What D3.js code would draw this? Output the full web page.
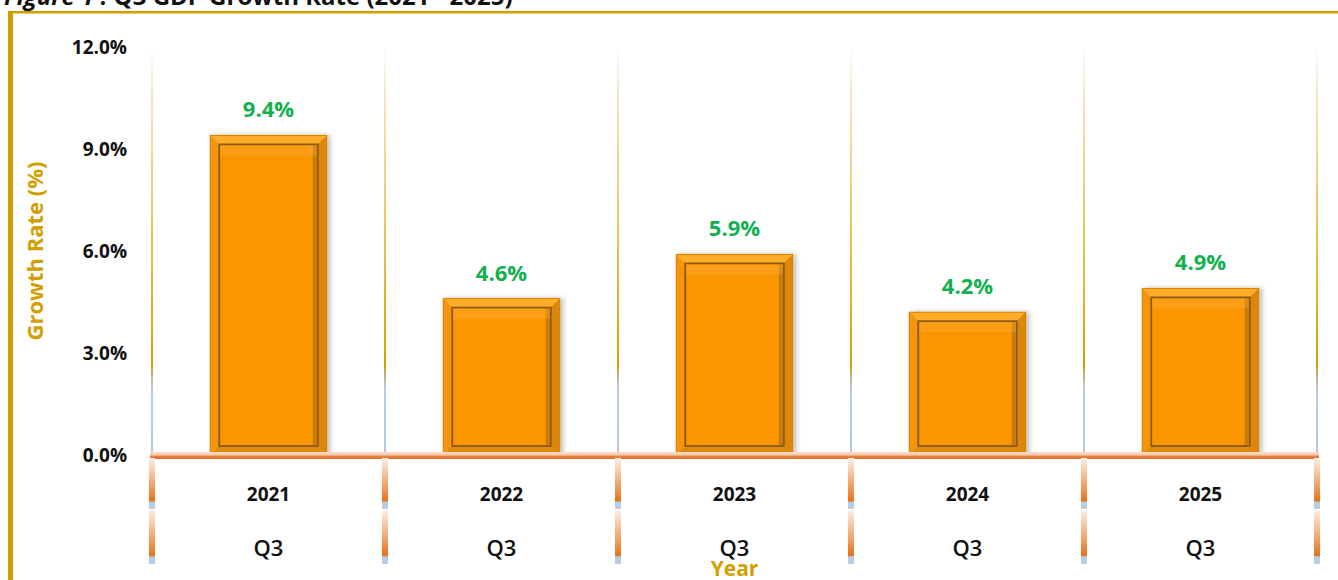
<!DOCTYPE html>
<html><head><meta charset="utf-8">
<script src="https://cdn.jsdelivr.net/npm/d3@7/dist/d3.min.js"></script>
<style>html,body{margin:0;padding:0;background:#fff;overflow:hidden}</style>
</head><body>
<svg id="c" width="1338" height="580"></svg>
<script>
const years = ["2021","2022","2023","2024","2025"];
const quarters = ["Q3","Q3","Q3","Q3","Q3"];
const growth = [9.4, 4.6, 5.9, 4.2, 4.9];
const yTicks = [0, 3, 6, 9, 12];
const titleItalic = "Figure 1 : ";
const titleMain = "Q3 GDP Growth Rate (2021 - 2025)";
const yTitle = "Growth Rate (%)";
const xTitle = "Year";

(function(){
const svg = d3.select("#c");
const GOLD = "#D39E00", GREEN = "#12B04F";
const pLeft = 152, pRight = 1317, pTop = 47, pBottom = 455;
const FONT = "'Open Sans', Lato, sans-serif";

const x = d3.scaleBand().domain(years).range([pLeft, pRight]).paddingInner(0.5).paddingOuter(0.25);
const y = d3.scaleLinear().domain([0, 12]).range([pBottom, pTop]);
const step = x.step();
const bounds = years.map(d => x(d) - step * 0.25).concat([pRight]);

const defs = svg.append("defs");
const gg = defs.append("linearGradient").attr("id","grid").attr("gradientUnits","userSpaceOnUse")
  .attr("x1",0).attr("y1",45).attr("x2",0).attr("y2",455);
[[0,"#ffffff"],[0.12,"#f4e6c4"],[0.45,"#e8c55a"],[0.78,"#d4a000"],[0.81,"#c4b490"],[0.84,"#b8cce8"],[1,"#b4c8e6"]]
  .forEach(([o,c]) => gg.append("stop").attr("offset",o).attr("stop-color",c));
const tg = defs.append("linearGradient").attr("id","tick").attr("x1",0).attr("y1",0).attr("x2",0).attr("y2",1);
[[0,"#fbefe6"],[0.5,"#f0a870"],[0.84,"#e8701a"],[0.87,"#b8cce6"],[1,"#b8cce6"]]
  .forEach(([o,c]) => tg.append("stop").attr("offset",o).attr("stop-color",c));
const ag = defs.append("linearGradient").attr("id","axis").attr("x1",0).attr("y1",0).attr("x2",0).attr("y2",1);
[[0,"#fbe3d4"],[0.45,"#f4c2a0"],[0.6,"#e98040"],[1,"#e07028"]]
  .forEach(([o,c]) => ag.append("stop").attr("offset",o).attr("stop-color",c));
const sh = defs.append("filter").attr("id","shadow").attr("x","-10%").attr("y","-10%").attr("width","130%").attr("height","130%");
sh.append("feDropShadow").attr("dx",3).attr("dy",0).attr("stdDeviation",2.5).attr("flood-color","#000").attr("flood-opacity",0.25);

// frame
svg.append("rect").attr("x",8).attr("y",11).attr("width",1340).attr("height",2.5).attr("fill",GOLD);
svg.append("rect").attr("x",8).attr("y",11).attr("width",5).attr("height",580).attr("fill",GOLD);

// title (cut off at top)
const t = svg.append("text").attr("x",4).attr("y",5).attr("font-family","'Open Sans', sans-serif")
  .attr("font-size",24).attr("font-weight",700).attr("fill","#111");
t.append("tspan").attr("font-style","italic").text(titleItalic);
t.append("tspan").text(titleMain);

// vertical gridlines
svg.append("g").selectAll("line").data(bounds).join("line")
  .attr("x1",d=>d).attr("x2",d=>d).attr("y1",45).attr("y2",455)
  .attr("stroke","url(#grid)").attr("stroke-width",2);

// bars
const bars = svg.append("g").selectAll("g").data(growth).join("g").attr("filter","url(#shadow)");
const b = 9;
bars.each(function(v, i) {
  const g = d3.select(this);
  const x0 = x(years[i]), x1 = x0 + x.bandwidth(), yt = y(v), yb = y(0);
  g.append("rect").attr("x",x0).attr("y",yt).attr("width",x1-x0).attr("height",yb-yt).attr("fill","#FA9600");
  const poly = (pts, fill) => g.append("path").attr("d","M"+pts.map(p=>p.join(",")).join("L")+"Z").attr("fill",fill);
  poly([[x0,yt],[x1,yt],[x1-b,yt+b],[x0+b,yt+b]], "#FFAC2A");
  poly([[x0,yt],[x0+b,yt+b],[x0+b,yb-b],[x0,yb]], "#F59510");
  poly([[x1,yt],[x1-b,yt+b],[x1-b,yb-b],[x1,yb]], "#DC8608");
  poly([[x0,yb],[x1,yb],[x1-b,yb-b],[x0+b,yb-b]], "#E08A0A");
  g.append("rect").attr("x",x0).attr("y",yt).attr("width",x1-x0).attr("height",yb-yt)
    .attr("fill","none").attr("stroke","#D98000").attr("stroke-width",1);
  g.append("rect").attr("x",x0+b).attr("y",yt+b).attr("width",x1-x0-2*b).attr("height",yb-yt-2*b)
    .attr("fill","none").attr("stroke","#8A5A14").attr("stroke-width",1.8);
  g.append("rect").attr("x",x1-b-5).attr("y",yt+b+1).attr("width",4).attr("height",yb-yt-2*b-2)
    .attr("fill","#B06E10").attr("opacity",0.7);
  g.append("rect").attr("x",x0+b+1).attr("y",yt+b+1).attr("width",x1-x0-2*b-2).attr("height",10)
    .attr("fill","#FFB040").attr("opacity",0.35);
});

// data labels
svg.append("g").selectAll("text").data(growth).join("text")
  .attr("x",(d,i)=>x(years[i])+x.bandwidth()/2).attr("y",d=>y(d)-18)
  .attr("text-anchor","middle").attr("font-family",FONT).attr("font-size",22).attr("font-weight",700)
  .attr("fill",GREEN).text(d=>d.toFixed(1)+"%");

// x axis line
svg.append("rect").attr("x",pLeft-2).attr("y",452).attr("width",pRight-pLeft+4).attr("height",7).attr("fill","url(#axis)");

// category separators
const segs = [];
bounds.forEach(bx => { segs.push([bx,458,509]); segs.push([bx,510,564]); });
svg.append("g").selectAll("rect").data(segs).join("rect")
  .attr("x",d=>d[0]-3).attr("y",d=>d[1]).attr("width",6).attr("height",d=>d[2]-d[1]).attr("fill","url(#tick)");

// y axis
const yAxis = d3.axisLeft(y).tickValues(yTicks).tickFormat(d=>d3.format(".1f")(d)+"%").tickSize(0).tickPadding(25);
const ya = svg.append("g").attr("transform",`translate(${pLeft},0)`).call(yAxis);
ya.select(".domain").remove();
ya.selectAll("text").attr("font-family",FONT).attr("font-size",19).attr("font-weight",700).attr("fill","#111");

// category labels
svg.append("g").selectAll("text").data(years).join("text")
  .attr("x",d=>x(d)+x.bandwidth()/2).attr("y",501).attr("text-anchor","middle")
  .attr("font-family",FONT).attr("font-size",19).attr("font-weight",700).attr("fill","#111").text(d=>d);
svg.append("g").selectAll("text").data(quarters).join("text")
  .attr("x",(d,i)=>x(years[i])+x.bandwidth()/2).attr("y",556).attr("text-anchor","middle")
  .attr("font-family",FONT).attr("font-size",22).attr("font-weight",600).attr("fill","#111").text(d=>d);

// axis titles
svg.append("text").attr("x",(pLeft+pRight)/2).attr("y",576).attr("text-anchor","middle")
  .attr("font-family",FONT).attr("font-size",21).attr("font-weight",700).attr("fill",GOLD).text(xTitle);
svg.append("text").attr("transform",`translate(43,${y(6)}) rotate(-90)`).attr("text-anchor","middle")
  .attr("font-family",FONT).attr("font-size",22).attr("font-weight",700).attr("fill",GOLD).text(yTitle);
})();
</script>
</body></html>
